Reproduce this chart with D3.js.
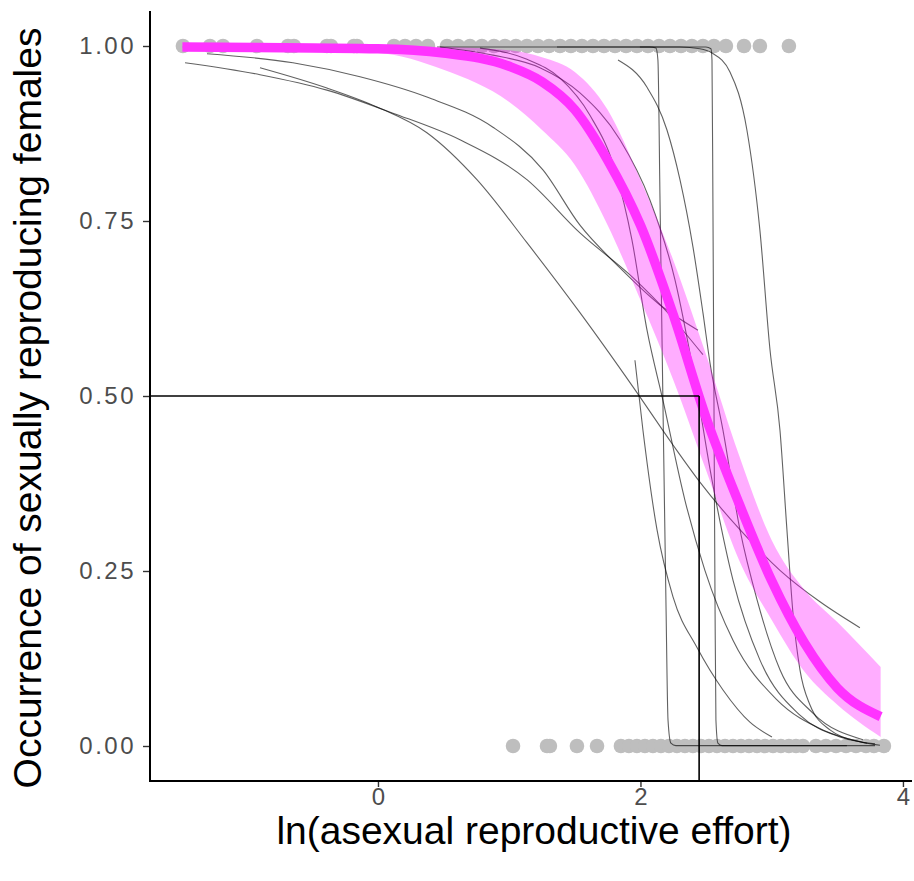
<!DOCTYPE html>
<html><head><meta charset="utf-8">
<script src="https://cdn.jsdelivr.net/npm/d3@7"></script>
<style>body{margin:0;background:#fff}</style>
</head><body>
<svg id="chart" width="914" height="881"></svg>
<script>
// ---------------- data ----------------
const xTicks = [0, 2, 4];
const xTickLabels = ["0", "2", "4"];
const yTicks = [0, 0.25, 0.5, 0.75, 1];
const yTickLabels = ["0.00", "0.25", "0.50", "0.75", "1.00"];
const xLabel = "ln(asexual reproductive effort)";
const yLabel = "Occurrence of sexually reproducing females";

// observations: x of females found sexual (y = 1) and not (y = 0)
const presentX = [-1.486,-1.280,-1.181,-0.922,-0.686,-0.640,-0.389,-0.358,-0.183,-0.160,
  0.122,0.206,0.290,0.381,0.526,0.610,0.701,0.792,0.884,0.968,1.051,1.135,1.219,1.303,
  1.387,1.470,1.554,1.638,1.722,1.806,1.890,1.973,2.057,2.141,2.225,2.309,2.392,2.476,
  2.560,2.651,2.789,2.910,3.131];
const absentX = [1.029,1.288,1.310,1.516,1.669,1.851,1.912,1.973,2.034,2.095,2.156,2.217,
  2.278,2.339,2.400,2.461,2.522,2.583,2.644,2.705,2.766,2.827,2.888,2.949,3.010,3.070,
  3.131,3.185,3.238,3.337,3.413,3.490,3.566,3.642,3.718,3.779,3.855];

// overall fit with confidence band
const fitX  = [-1.49,-0.5,0,0.5,1.0,1.25,1.5,1.75,2.0,2.25,2.5,2.75,3.0,3.25,3.5,3.83];
const fitY  = [0.9986,0.997,0.996,0.99,0.971,0.949,0.909,0.837,0.744,0.616,0.469,0.347,0.236,0.147,0.083,0.042];
const fitLo = [0.997,0.993,0.99,0.966,0.92,0.88,0.83,0.744,0.637,0.523,0.394,0.266,0.18,0.106,0.059,0.013];
const fitHi = [1.0,1.0,1.0,0.9986,0.994,0.984,0.963,0.909,0.809,0.694,0.559,0.416,0.294,0.223,0.177,0.113];

// per-species fitted curves [x, y]
const curveA = [[-0.899,0.969],[-0.389,0.940],[-0.008,0.913],[0.373,0.876],[0.754,0.809],[1.135,0.719],[1.539,0.619],[1.943,0.513],[2.248,0.430],[2.453,0.377],[2.758,0.309],[3.063,0.251],[3.368,0.206],[3.672,0.169]];
const curveB = [[-1.470,0.976],[-0.899,0.959],[-0.389,0.937],[0.114,0.904],[0.625,0.866],[1.135,0.809],[1.539,0.733],[1.943,0.669],[2.202,0.620],[2.476,0.559]];
const curveC = [[-1.303,0.989],[-0.648,0.976],[-0.137,0.956],[0.373,0.927],[0.876,0.884],[1.257,0.823],[1.539,0.744],[1.844,0.683],[2.149,0.630],[2.438,0.594]];
const curveD = [[0.472,0.9986],[0.876,0.987],[1.234,0.969],[1.539,0.933],[1.844,0.866],[2.072,0.780],[2.263,0.666],[2.415,0.523],[2.545,0.380],[2.705,0.237],[2.910,0.123],[3.215,0.044],[3.520,0.013],[3.787,0.003]];
const curveE = [[0.777,0.997],[1.135,0.981],[1.387,0.954],[1.615,0.901],[1.806,0.823],[1.935,0.723],[2.050,0.594],[2.171,0.494],[2.339,0.351],[2.491,0.251],[2.705,0.151],[3.040,0.066],[3.390,0.023],[3.726,0.004]];
const curveF = [[1.958,0.551],[2.019,0.451],[2.126,0.309],[2.248,0.213],[2.430,0.141],[2.629,0.080],[2.834,0.034],[3.002,0.013]];
const curveG = [[1.829,0.980],[2.050,0.941],[2.202,0.880],[2.301,0.809],[2.400,0.713],[2.476,0.619],[2.530,0.547],[2.629,0.451],[2.758,0.309],[2.888,0.209],[3.063,0.109],[3.314,0.047],[3.695,0.009]];
const curveH = [[1.996,0.9986],[2.301,0.9986],[2.453,0.996],[2.545,0.990],[2.682,0.963],[2.811,0.880],[2.910,0.737],[2.987,0.566],[3.063,0.451],[3.116,0.309],[3.162,0.190],[3.215,0.109],[3.291,0.059],[3.444,0.023],[3.672,0.006],[3.825,0.001]];
const curveStep1 = [[0.450,0.9986],[2.072,0.9986],[2.118,0.997],[2.133,0.980],[2.149,0.780],[2.171,0.494],[2.194,0.209],[2.210,0.037],[2.232,0.004],[2.270,0.0005],[3.573,0.0005]];
const curveStep2 = [[1.364,0.9986],[2.499,0.9986],[2.537,0.996],[2.545,0.980],[2.552,0.780],[2.560,0.494],[2.568,0.209],[2.575,0.037],[2.590,0.004],[2.621,0.0005],[3.787,0.0005]];
const speciesCurves = [curveA, curveB, curveC, curveD, curveE, curveF, curveG, curveH, curveStep1, curveStep2];

// x at which the overall fit crosses 0.5
const threshold = {x: 2.447, y: 0.5};

// ---------------- drawing ----------------
const svg = d3.select("#chart");
const panel = {left: 150, right: 912, top: 11, bottom: 781};

const x = d3.scaleLinear().domain([-1.737, 4.069]).range([panel.left, panel.right]);
const y = d3.scaleLinear().domain([-0.05, 1.05]).range([panel.bottom, panel.top]);

svg.append("defs").append("clipPath").attr("id", "clip")
  .append("rect").attr("x", panel.left).attr("y", panel.top)
  .attr("width", panel.right - panel.left).attr("height", panel.bottom - panel.top);

const g = svg.append("g").attr("clip-path", "url(#clip)");

// points
g.selectAll("circle.p1").data(presentX).enter().append("circle")
  .attr("cx", d => x(d)).attr("cy", y(1)).attr("r", 7.3).attr("fill", "#bebebe");
g.selectAll("circle.p0").data(absentX).enter().append("circle")
  .attr("cx", d => x(d)).attr("cy", y(0)).attr("r", 7.3).attr("fill", "#bebebe");

// species curves
const line = d3.line().x(d => x(d[0])).y(d => y(d[1])).curve(d3.curveMonotoneX);
g.selectAll("path.sp").data(speciesCurves).enter().append("path")
  .attr("d", line).attr("fill", "none").attr("stroke", "#000")
  .attr("stroke-opacity", 0.62).attr("stroke-width", 1.1);

// confidence band
const band = fitX.map((v, i) => ({x: v, lo: fitLo[i], hi: fitHi[i]}));
g.append("path").datum(band)
  .attr("d", d3.area().x(d => x(d.x)).y0(d => y(d.lo)).y1(d => y(d.hi)).curve(d3.curveMonotoneX))
  .attr("fill", "#ff00ff").attr("fill-opacity", 0.32);

// fitted line
const fit = fitX.map((v, i) => [v, fitY[i]]);
g.append("path").datum(fit).attr("d", line)
  .attr("fill", "none").attr("stroke", "#ff33ff").attr("stroke-width", 9.5);

// threshold lines
g.append("line").attr("x1", panel.left).attr("x2", x(threshold.x))
  .attr("y1", y(threshold.y)).attr("y2", y(threshold.y))
  .attr("stroke", "#000").attr("stroke-width", 1.6);
g.append("line").attr("x1", x(threshold.x)).attr("x2", x(threshold.x))
  .attr("y1", y(threshold.y)).attr("y2", panel.bottom)
  .attr("stroke", "#000").attr("stroke-width", 1.6);

// axes
const font = "'Liberation Sans', Arial, Helvetica, sans-serif";
const xAxis = svg.append("g").attr("transform", `translate(0,${panel.bottom})`)
  .call(d3.axisBottom(x).tickValues(xTicks).tickFormat((d, i) => xTickLabels[i]).tickSize(6).tickPadding(1));
const yAxis = svg.append("g").attr("transform", `translate(${panel.left},0)`)
  .call(d3.axisLeft(y).tickValues(yTicks).tickFormat((d, i) => yTickLabels[i]).tickSize(7).tickPadding(7));
[xAxis, yAxis].forEach(a => {
  a.select(".domain").remove();
  a.selectAll(".tick line").attr("stroke", "#333").attr("stroke-width", 1.4);
  a.selectAll(".tick text").attr("fill", "#4d4d4d").style("font-family", font).style("font-size", "24px");
});
yAxis.selectAll(".tick text").style("letter-spacing", "2.5px");
// axis lines
svg.append("line").attr("x1", panel.left).attr("x2", panel.left)
  .attr("y1", panel.top).attr("y2", panel.bottom + 1).attr("stroke", "#000").attr("stroke-width", 2);
svg.append("line").attr("x1", panel.left - 1).attr("x2", panel.right)
  .attr("y1", panel.bottom).attr("y2", panel.bottom).attr("stroke", "#000").attr("stroke-width", 2);

// titles
svg.append("text").attr("x", (panel.left + panel.right) / 2 + 3).attr("y", 844)
  .attr("text-anchor", "middle").style("font-family", font).style("font-size", "39px")
  .attr("fill", "#000").text(xLabel);
svg.append("text").attr("transform", `translate(41,${(panel.top + panel.bottom) / 2 + 12}) rotate(-90)`)
  .attr("text-anchor", "middle").style("font-family", font).style("font-size", "39px")
  .attr("fill", "#000").text(yLabel);
</script>
</body></html>
